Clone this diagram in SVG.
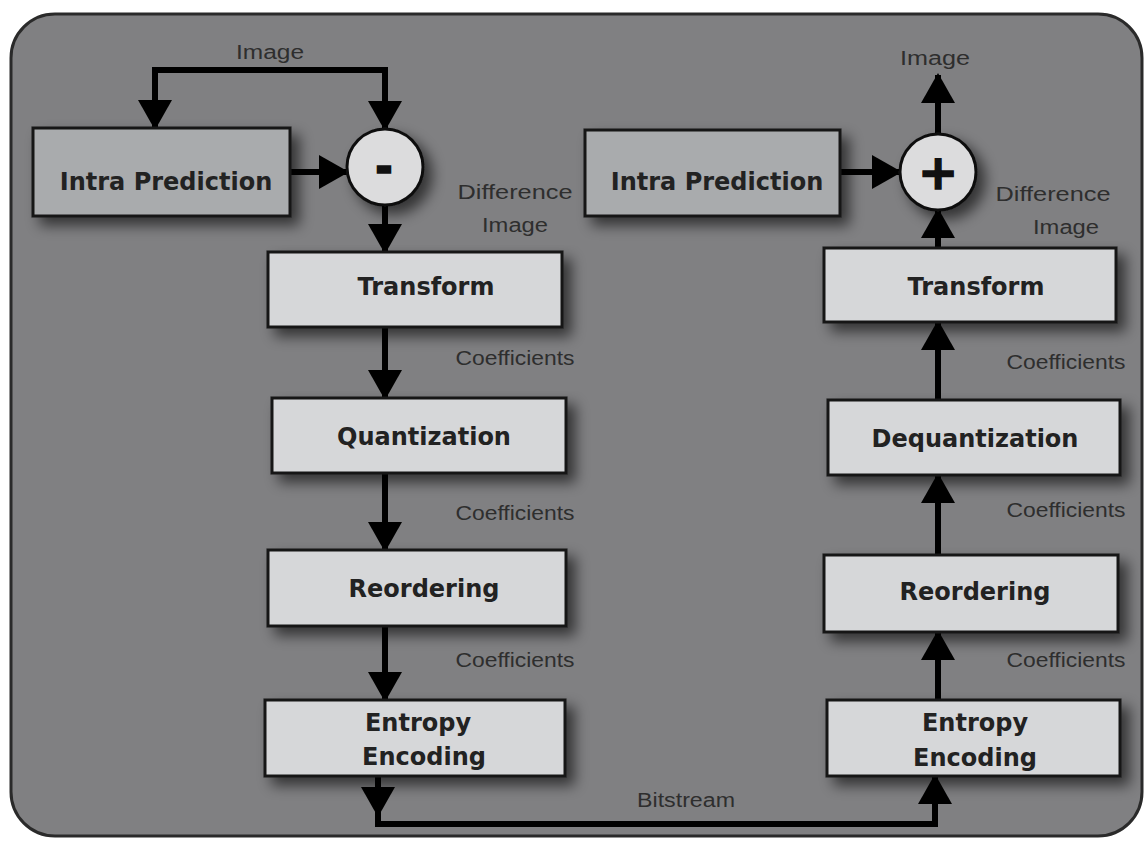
<svg xmlns="http://www.w3.org/2000/svg" width="1144" height="841" viewBox="0 0 1144 841">
<defs>
<filter id="sh" x="-20%" y="-20%" width="150%" height="170%">
<feGaussianBlur in="SourceAlpha" stdDeviation="7"/>
<feOffset dx="8" dy="8" result="b"/>
<feComponentTransfer><feFuncA type="linear" slope="0.6"/></feComponentTransfer>
<feMerge><feMergeNode/><feMergeNode in="SourceGraphic"/></feMerge>
</filter>
<marker id="ah" viewBox="0 0 30 34" refX="28" refY="17" markerWidth="30" markerHeight="34" markerUnits="userSpaceOnUse" orient="auto">
<path d="M0,0 L30,17 L0,34 z" fill="#000"/>
</marker>
</defs>
<style>
.box{fill:#d6d7d9;stroke:#161616;stroke-width:3}
.ibox{fill:#a9abad;stroke:#161616;stroke-width:3}
.op{fill:#dcdcdd;stroke:#111;stroke-width:3}
.bl{font-family:"DejaVu Sans",sans-serif;font-weight:bold;font-size:24px;fill:#222;text-anchor:middle}
.sym{font-family:"DejaVu Sans",sans-serif;font-weight:bold;fill:#111;stroke:#111;text-anchor:middle}
.sl{font-family:"Liberation Sans",Arial,sans-serif;font-size:20px;fill:#2e2e2e;text-anchor:middle}
.cn{fill:none;stroke:#000;stroke-width:6;stroke-linejoin:miter}
</style>
<rect x="11" y="14" width="1131" height="822" rx="44" fill="#808082" stroke="#2a2a2a" stroke-width="3"/>

<g id="connectors">
<path class="cn" d="M270,70 L155,70 L155,128" marker-end="url(#ah)"/>
<path class="cn" d="M270,70 L385,70 L385,129" marker-end="url(#ah)"/>
<path class="cn" d="M290,172 L347,172" marker-end="url(#ah)"/>
<path class="cn" d="M385,205 L385,252" marker-end="url(#ah)"/>
<path class="cn" d="M385,327 L385,398" marker-end="url(#ah)"/>
<path class="cn" d="M385,473 L385,550" marker-end="url(#ah)"/>
<path class="cn" d="M385,626 L385,700" marker-end="url(#ah)"/>
<path class="cn" d="M378,776 L378,815" marker-end="url(#ah)"/>
<path class="cn" d="M378,805 L378,824 L935,824 L935,776" marker-end="url(#ah)"/>
<path class="cn" d="M938,700 L938,632" marker-end="url(#ah)"/>
<path class="cn" d="M938,555 L938,475" marker-end="url(#ah)"/>
<path class="cn" d="M938,400 L938,322" marker-end="url(#ah)"/>
<path class="cn" d="M938,248 L938,210" marker-end="url(#ah)"/>
<path class="cn" d="M840,172 L900,172" marker-end="url(#ah)"/>
<path class="cn" d="M938,134 L938,75" marker-end="url(#ah)"/>
<text class="sl" x="270" y="59" textLength="68" lengthAdjust="spacingAndGlyphs">Image</text>
<text class="sl" x="935" y="65" textLength="70" lengthAdjust="spacingAndGlyphs">Image</text>
<text class="sl" x="515" y="199" textLength="115" lengthAdjust="spacingAndGlyphs">Difference</text>
<text class="sl" x="515" y="232" textLength="66" lengthAdjust="spacingAndGlyphs">Image</text>
<text class="sl" x="1053" y="201" textLength="115" lengthAdjust="spacingAndGlyphs">Difference</text>
<text class="sl" x="1066" y="234" textLength="66" lengthAdjust="spacingAndGlyphs">Image</text>
<text class="sl" x="515" y="365" textLength="119" lengthAdjust="spacingAndGlyphs">Coefficients</text>
<text class="sl" x="515" y="520" textLength="119" lengthAdjust="spacingAndGlyphs">Coefficients</text>
<text class="sl" x="515" y="667" textLength="119" lengthAdjust="spacingAndGlyphs">Coefficients</text>
<text class="sl" x="1066" y="369" textLength="119" lengthAdjust="spacingAndGlyphs">Coefficients</text>
<text class="sl" x="1066" y="517" textLength="119" lengthAdjust="spacingAndGlyphs">Coefficients</text>
<text class="sl" x="1066" y="667" textLength="119" lengthAdjust="spacingAndGlyphs">Coefficients</text>
<text class="sl" x="686" y="807" textLength="98" lengthAdjust="spacingAndGlyphs">Bitstream</text>
</g>

<g id="enc-intra"><rect class="ibox" x="33" y="128" width="257" height="88" filter="url(#sh)"/><text class="bl" x="166" y="190">Intra Prediction</text></g>
<g id="enc-sub"><circle class="op" cx="385" cy="167" r="38" filter="url(#sh)"/><text class="sym" x="384" y="180" style="font-size:36px;stroke-width:3.5">-</text></g>
<g id="enc-transform"><rect class="box" x="268" y="252" width="294" height="75" filter="url(#sh)"/><text class="bl" x="426" y="295">Transform</text></g>
<g id="enc-quant"><rect class="box" x="272" y="398" width="294" height="75" filter="url(#sh)"/><text class="bl" x="424" y="445">Quantization</text></g>
<g id="enc-reorder"><rect class="box" x="268" y="550" width="298" height="76" filter="url(#sh)"/><text class="bl" x="424" y="597">Reordering</text></g>
<g id="enc-entropy"><rect class="box" x="265" y="700" width="300" height="76" filter="url(#sh)"/><text class="bl" x="418" y="731">Entropy</text><text class="bl" x="424" y="765">Encoding</text></g>

<g id="dec-intra"><rect class="ibox" x="585" y="130" width="255" height="86" filter="url(#sh)"/><text class="bl" x="717" y="190">Intra Prediction</text></g>
<g id="dec-add"><circle class="op" cx="938" cy="172" r="38" filter="url(#sh)"/><text class="sym" x="938" y="189" style="font-size:48px;stroke-width:1.5">+</text></g>
<g id="dec-transform"><rect class="box" x="824" y="248" width="292" height="74" filter="url(#sh)"/><text class="bl" x="976" y="295">Transform</text></g>
<g id="dec-dequant"><rect class="box" x="828" y="400" width="292" height="75" filter="url(#sh)"/><text class="bl" x="975" y="447">Dequantization</text></g>
<g id="dec-reorder"><rect class="box" x="824" y="555" width="294" height="77" filter="url(#sh)"/><text class="bl" x="975" y="600">Reordering</text></g>
<g id="dec-entropy"><rect class="box" x="827" y="700" width="293" height="76" filter="url(#sh)"/><text class="bl" x="975" y="731">Entropy</text><text class="bl" x="975" y="766">Encoding</text></g>
</svg>
